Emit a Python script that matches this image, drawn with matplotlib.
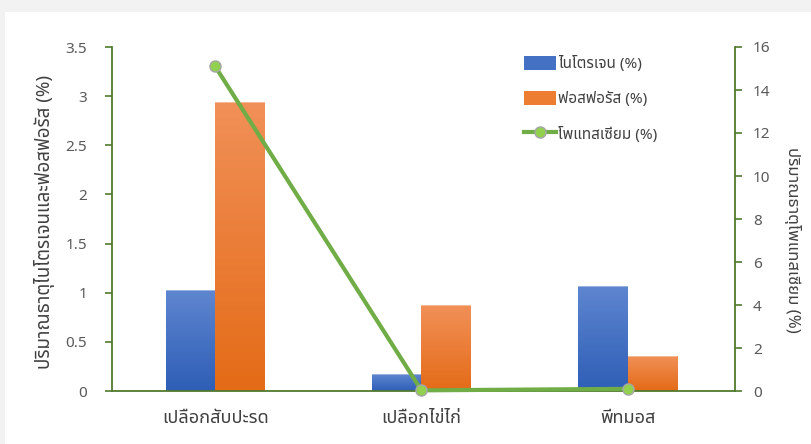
import numpy as np
import matplotlib
matplotlib.use("Agg")
import matplotlib.pyplot as plt
from matplotlib.colors import LinearSegmentedColormap
from matplotlib.lines import Line2D
from matplotlib.patches import Patch, Rectangle

plt.rcParams['font.family'] = ['Noto Sans Thai', 'DejaVu Sans']

categories = ['เปลือกสับปะรด', 'เปลือกไข่ไก่', 'พีทมอส']
nitrogen = [1.03, 0.17, 1.07]
phosphorus = [2.94, 0.87, 0.36]
potassium = [15.1, 0.03, 0.1]
left_ticks = [0, 0.5, 1, 1.5, 2, 2.5, 3, 3.5]
right_ticks = [0, 2, 4, 6, 8, 10, 12, 14, 16]

series_names = ['ไนโตรเจน (%)', 'ฟอสฟอรัส (%)', 'โพแทสเซียม (%)']
left_label = 'ปริมาณธาตุไนโตรเจนและฟอสฟอรัส (%)'
right_label = 'ปริมาณธาตุโพแทสเซียม (%)'

BLUE = ('#5F86D0', '#2E5EB6')
ORANGE = ('#F19058', '#E46B17')
GREEN = '#70AD47'
AXIS = '#4F7A2E'
TXT = '#595959'

fig = plt.figure(figsize=(8.11, 4.44), dpi=100, facecolor='#F2F2F2')
fig.patches.append(Rectangle((5 / 811, 0), 1, 1 - 12 / 444, transform=fig.transFigure,
                             facecolor='white', edgecolor='none', zorder=-10))

ax = fig.add_axes([112 / 811, 1 - 391 / 444, 623 / 811, 344 / 444])
ax.set_facecolor('none')
x = np.arange(len(categories))
w = 0.24

def gradient_bars(xs, vals, colors):
    bars = ax.bar(xs, vals, width=w, color=colors[1], edgecolor='none', zorder=2)
    cmap = LinearSegmentedColormap.from_list('g', [colors[1], colors[0]])
    grad = np.linspace(0, 1, 256).reshape(-1, 1)
    for b in bars:
        x0, y0 = b.get_x(), b.get_y()
        x1, y1 = x0 + b.get_width(), y0 + b.get_height()
        im = ax.imshow(grad, cmap=cmap, origin='lower', extent=[x0, x1, y0, y1],
                       aspect='auto', zorder=2.1, interpolation='bilinear')
        im.set_clip_path(b)
        ax.plot([x0, x1], [y1, y1], color='white', alpha=0.45, lw=1.2, zorder=2.2,
                solid_capstyle='butt')
    return bars

gradient_bars(x - w / 2, nitrogen, BLUE)
gradient_bars(x + w / 2, phosphorus, ORANGE)

ax.set_xlim(-0.5, 2.52)
ax.set_ylim(0, 3.5)
ax.set_yticks(left_ticks)
ax.set_yticklabels([f'{t:g}' for t in left_ticks])
ax.set_xticks(x)
ax.set_xticklabels(categories, fontsize=13, color='#404040')
ax.tick_params(axis='x', length=0, pad=13)
ax.tick_params(axis='y', direction='out', length=5, width=1.2, color=AXIS,
               labelsize=11, labelcolor=TXT, pad=13)
for s in ['top', 'right']:
    ax.spines[s].set_visible(False)
for s in ['left', 'bottom']:
    ax.spines[s].set_color(AXIS)
    ax.spines[s].set_linewidth(1.3)

ax2 = ax.twinx()
ax2.set_facecolor('none')
ax2.plot(x, potassium, color=GREEN, lw=3, marker='o', markersize=8,
         markerfacecolor='#92D050', markeredgecolor='#A6A6A6', markeredgewidth=1,
         zorder=5, clip_on=False)
ax2.set_ylim(0, 16)
ax2.set_yticks(right_ticks)
ax2.tick_params(axis='y', direction='out', length=5, width=1.2, color=AXIS,
                labelsize=11, labelcolor=TXT, pad=8)
for s in ['top', 'left', 'bottom']:
    ax2.spines[s].set_visible(False)
ax2.spines['right'].set_color(AXIS)
ax2.spines['right'].set_linewidth(1.3)

fig.text(45 / 811, 1 - 222 / 444, left_label, rotation=90, ha='center', va='center',
         fontsize=13.5, color='#404040')
fig.text(793 / 811, 1 - 240 / 444, right_label, rotation=270, ha='center', va='center',
         fontsize=12, color='#404040')

handles = [Patch(facecolor='#4471C4', edgecolor='none'),
           Patch(facecolor='#ED7D31', edgecolor='none'),
           Line2D([], [], color=GREEN, lw=3, marker='o', markersize=8,
                  markerfacecolor='#92D050', markeredgecolor='#A6A6A6')]
leg = fig.legend(handles, series_names, loc='upper left',
                 bbox_to_anchor=(518 / 811, 1 - 50 / 444), frameon=False,
                 fontsize=11, labelspacing=1.25, handlelength=2.1, handleheight=1.0,
                 handletextpad=0.15, borderaxespad=0)
for t in leg.get_texts():
    t.set_color('#404040')

fig.savefig('out.png', dpi=100, facecolor=fig.get_facecolor())
